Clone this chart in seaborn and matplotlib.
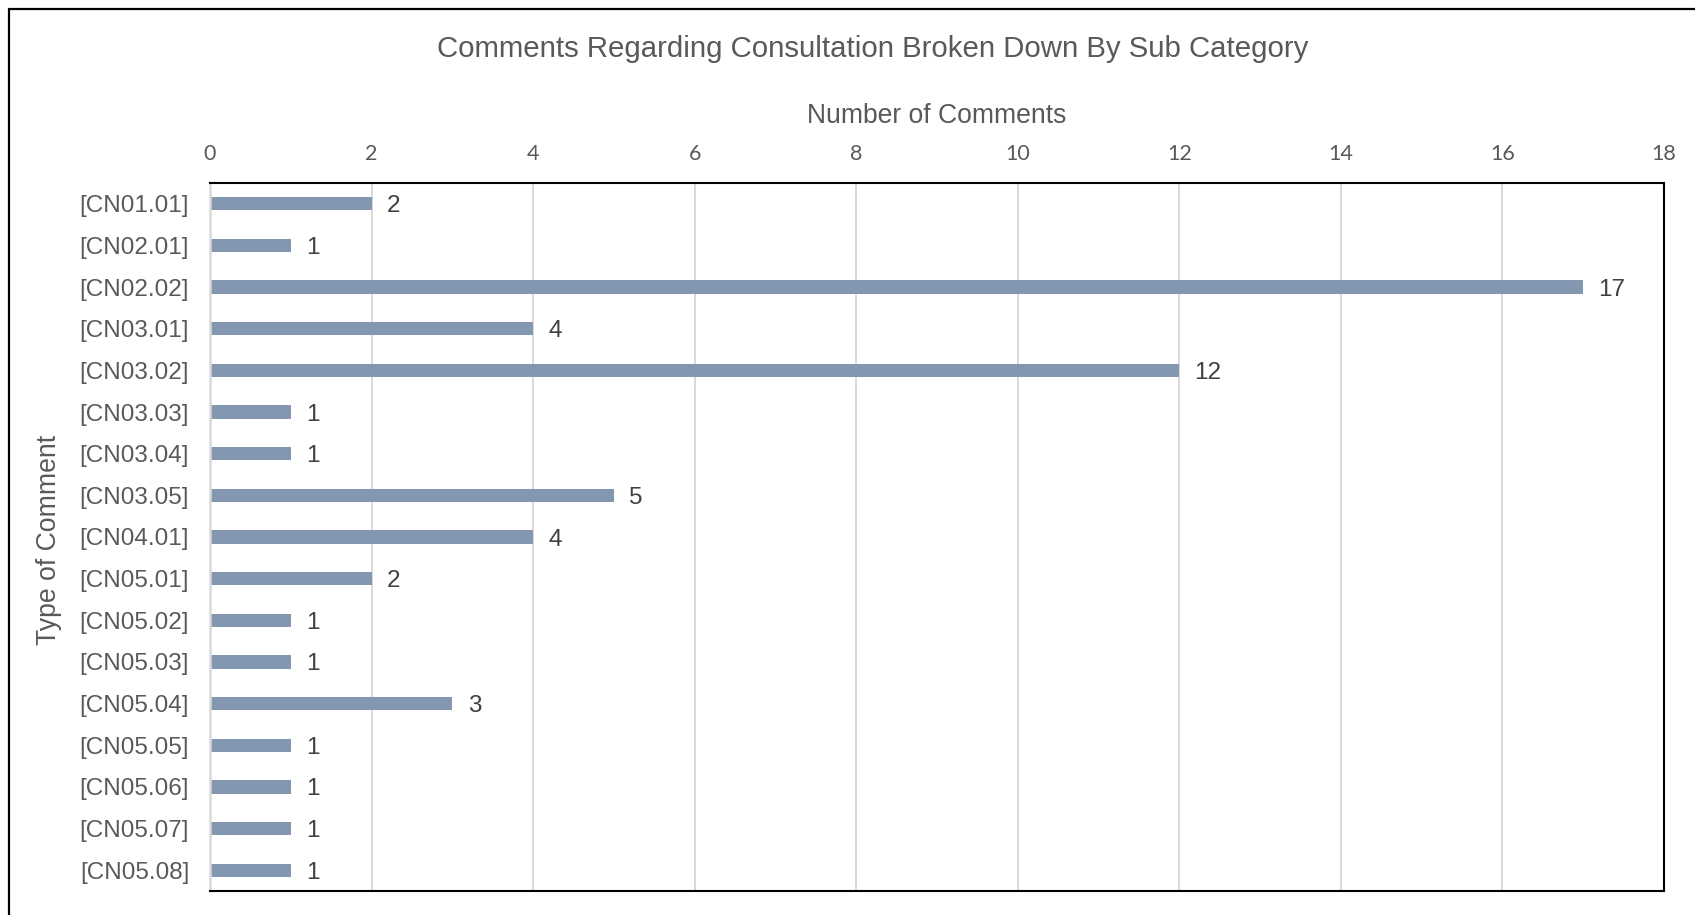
import matplotlib
matplotlib.use("Agg")
import matplotlib.pyplot as plt
from matplotlib.lines import Line2D
import seaborn as sns
import pandas as pd

# Sub-category codes and comment counts
categories = ["[CN01.01]", "[CN02.01]", "[CN02.02]", "[CN03.01]", "[CN03.02]",
              "[CN03.03]", "[CN03.04]", "[CN03.05]", "[CN04.01]", "[CN05.01]",
              "[CN05.02]", "[CN05.03]", "[CN05.04]", "[CN05.05]", "[CN05.06]",
              "[CN05.07]", "[CN05.08]"]
counts = [2, 1, 17, 4, 12, 1, 1, 5, 4, 2, 1, 1, 3, 1, 1, 1, 1]
x_ticks = [0, 2, 4, 6, 8, 10, 12, 14, 16, 18]

title = "Comments Regarding Consultation Broken Down By Sub Category"
x_title = "Number of Comments"
y_title = "Type of Comment"

df = pd.DataFrame({"category": categories, "count": counts})

sns.set_theme(style="white")
plt.rcParams["font.family"] = ["Liberation Sans", "DejaVu Sans"]

W, H, DPI = 1695, 915, 100
fig = plt.figure(figsize=(W / DPI, H / DPI), dpi=DPI)
fig.patch.set_facecolor("white")

# axes box in pixels: left 210, right 1664, top 183, bottom 891
ax = fig.add_axes([210 / W, 1 - 891 / H, (1664 - 210) / W, (891 - 183) / H])

bar_color = "#8497B0"
sns.barplot(data=df, x="count", y="category", orient="h", color=bar_color,
            width=0.32, saturation=1, ax=ax, edgecolor="none")

ax.set_xlim(0, 18)
ax.set_ylim(len(categories) - 0.5, -0.5)
ax.set_xticks(x_ticks)
ax.set_xticklabels([str(t) for t in x_ticks], family=["Lato", "DejaVu Sans"],
                   fontsize=15.5, color="#595959")
ax.xaxis.tick_top()
ax.xaxis.set_label_position("top")
ax.tick_params(axis="x", length=0, pad=14)
ax.tick_params(axis="y", length=0, pad=15, labelsize=17.5, labelcolor="#595959")

ax.set_xlabel("")
ax.set_ylabel("")

# vertical gridlines
ax.grid(axis="x", color="#D9D9D9", linewidth=1.4)
ax.grid(axis="y", visible=False)
ax.set_axisbelow(True)

for side in ["top", "right", "bottom"]:
    ax.spines[side].set_color("black")
    ax.spines[side].set_linewidth(1.5)
    ax.spines[side].set_visible(True)
ax.spines["left"].set_color("#D9D9D9")
ax.spines["left"].set_linewidth(1.8)
ax.spines["left"].set_visible(True)

# value labels at bar ends
for cont in ax.containers:
    labels = ax.bar_label(cont, labels=[str(v) for v in counts], padding=11,
                          fontsize=17.5, color="#404040")
    for t in labels:
        t.set_verticalalignment("center_baseline")

# titles
fig.text(873 / W, 1 - 49 / H, title, ha="center", va="center",
         fontsize=21.2, color="#595959")
fig.text(937 / W, 1 - 116 / H, x_title, ha="center", va="center",
         fontsize=19.1, color="#595959")
fig.text(49 / W, 1 - 540 / H, y_title, ha="center", va="center",
         rotation=90, fontsize=19.2, color="#595959")

# outer frame edges
fig.add_artist(Line2D([9 / W, 9 / W], [0, 1 - 9 / H], transform=fig.transFigure,
                      color="black", linewidth=1.6))
fig.add_artist(Line2D([9 / W, 1], [1 - 9 / H, 1 - 9 / H], transform=fig.transFigure,
                      color="black", linewidth=1.6))

fig.savefig("out.png", dpi=DPI, facecolor="white")
